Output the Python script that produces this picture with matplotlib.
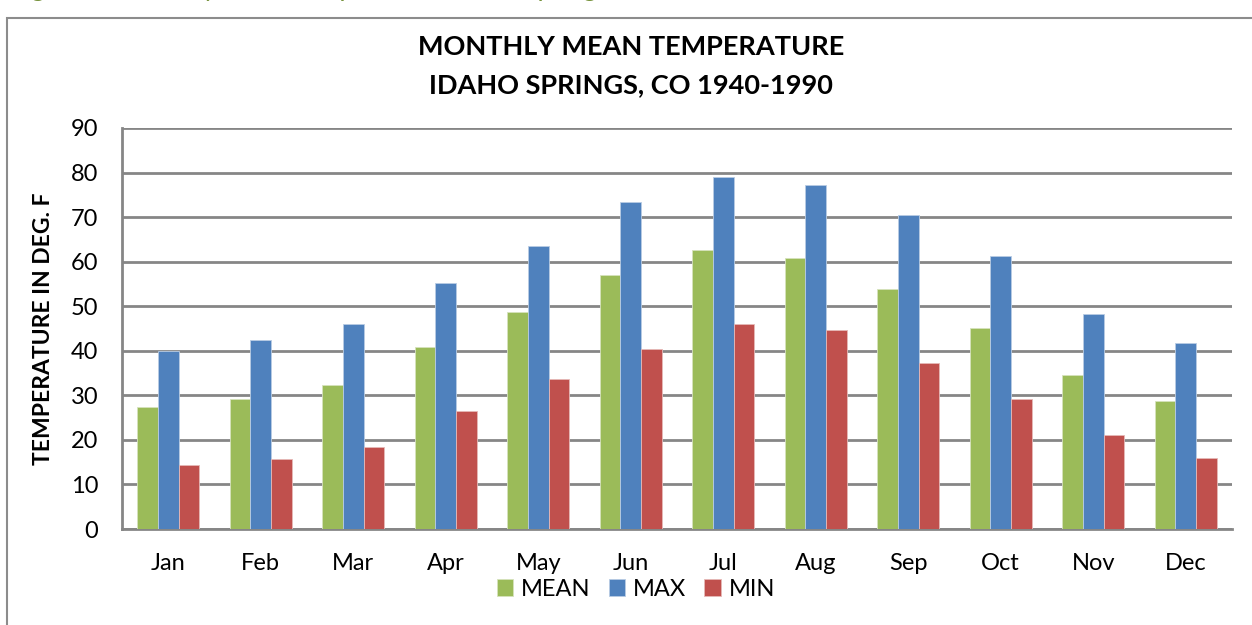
import matplotlib
matplotlib.use("Agg")
import matplotlib.pyplot as plt
import numpy as np
from matplotlib.patches import Rectangle

months = ["Jan", "Feb", "Mar", "Apr", "May", "Jun", "Jul", "Aug", "Sep", "Oct", "Nov", "Dec"]
mean_t = [27.3, 29.2, 32.3, 40.9, 48.6, 56.9, 62.6, 60.8, 53.9, 45.1, 34.6, 28.7]
max_t = [40.0, 42.5, 45.9, 55.2, 63.6, 73.3, 79.0, 77.2, 70.4, 61.3, 48.3, 41.7]
min_t = [14.4, 15.6, 18.4, 26.4, 33.7, 40.5, 46.0, 44.6, 37.3, 29.2, 21.1, 15.9]

plt.rcParams['font.family'] = ['Lato', 'DejaVu Sans']

fig = plt.figure(figsize=(12.52, 6.25), dpi=100)
ax = fig.add_axes([122/1252, 1 - 529/625, 1110/1252, 401/625])

# outer chart frame, runs off the right and bottom of the picture
fig.patches.append(Rectangle((7/1252, -0.1), 1.2, 1 - 18/625 + 0.1, transform=fig.transFigure,
                             fill=False, edgecolor="#8c8c8c", linewidth=1.5))
# caption above the frame, only descenders show below the top edge
fig.text(10/1252, 1 + 4/625, "Figure 7. Monthly mean temperature, Idaho Springs, CO",
         color="#76923C", fontsize=19, va="baseline", ha="left")

x = np.arange(len(months))
w = 1 / 4.5
ax.bar(x - w, mean_t, w, color="#9BBB59", edgecolor="#d6e3bc", linewidth=0.6, label="MEAN", zorder=3)
ax.bar(x, max_t, w, color="#4F81BD", edgecolor="#b8cce4", linewidth=0.6, label="MAX", zorder=3)
ax.bar(x + w, min_t, w, color="#C0504D", edgecolor="#e6b9b8", linewidth=0.6, label="MIN", zorder=3)

ax.set_xlim(-0.5, 11.5)
ax.set_ylim(0, 90)
ax.set_yticks(range(0, 91, 10))
ax.set_xticks(x)
ax.set_xticklabels(months)
ax.tick_params(axis="both", length=0, labelsize=17, colors="black")
ax.tick_params(axis="x", pad=17)
ax.tick_params(axis="y", pad=17)
ax.yaxis.grid(True, color="#868686", linewidth=2, zorder=0)
for s in ["top", "right"]:
    ax.spines[s].set_visible(False)
ax.spines["left"].set_color("#868686")
ax.spines["left"].set_linewidth(2)
ax.spines["bottom"].set_color("#868686")
ax.spines["bottom"].set_linewidth(2)

ax.set_ylabel("TEMPERATURE IN DEG. F", fontsize=16.5, fontweight="bold", labelpad=12)
fig.text(631/1252, 1 - 47/625, "MONTHLY MEAN TEMPERATURE", fontsize=19.5, fontweight="bold",
         ha="center", va="center")
fig.text(631/1252, 1 - 85/625, "IDAHO SPRINGS, CO 1940-1990", fontsize=19.5, fontweight="bold",
         ha="center", va="center")

fig.legend(loc="center", bbox_to_anchor=(636/1252, 1 - 589/625), ncol=3, frameon=False,
           fontsize=17, handlelength=0.7, handleheight=0.7, handletextpad=0.35, columnspacing=0.75)

fig.savefig("out.png", dpi=100)
